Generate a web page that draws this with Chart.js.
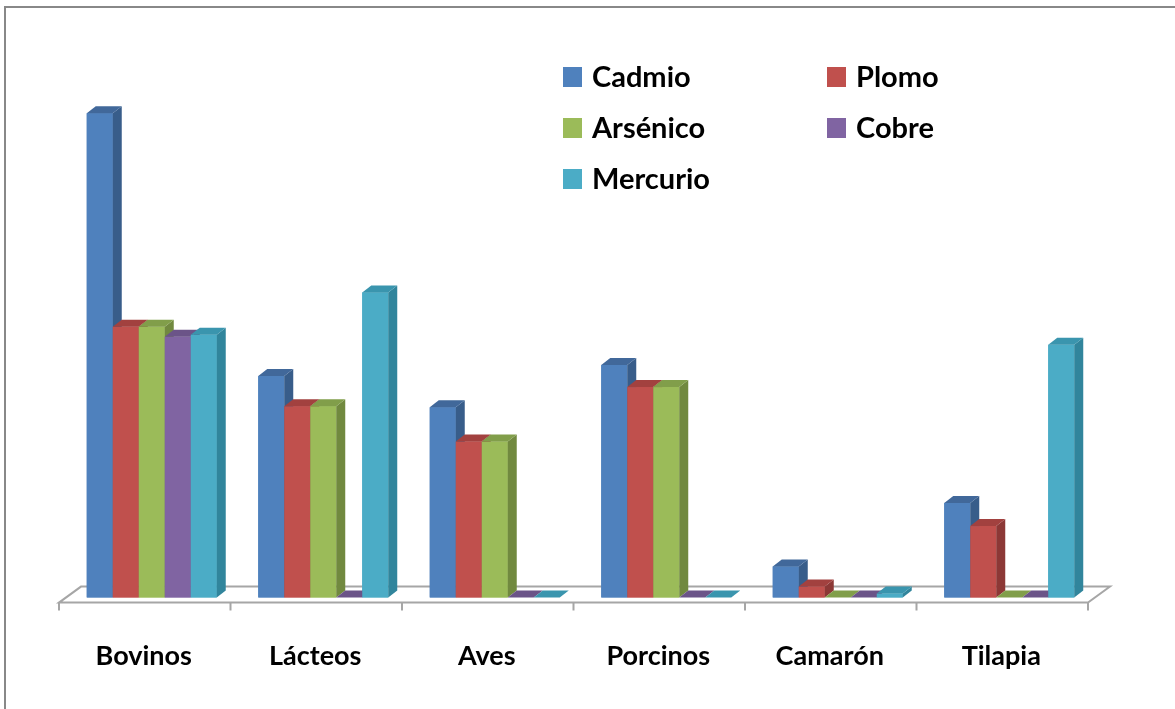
<!DOCTYPE html>
<html>
<head>
<meta charset="utf-8">
<title>Metales por producto</title>
<style>
  html, body { margin: 0; padding: 0; background: #fff; overflow: hidden; }
  #grafico { position: absolute; left: 0; top: 0; }
</style>
</head>
<body>
<canvas id="grafico" width="1175" height="709"></canvas>
<script src="https://cdn.jsdelivr.net/npm/chart.js@4.4.1/dist/chart.umd.min.js"></script>
<script>
// productos y metales
var productos = ['Bovinos', 'Lácteos', 'Aves', 'Porcinos', 'Camarón', 'Tilapia'];
var metales = ['Cadmio', 'Plomo', 'Arsénico', 'Cobre', 'Mercurio'];

var cadmio   = [4.81, 2.20, 1.89, 2.31, 0.31, 0.94];
var plomo    = [2.69, 1.90, 1.55, 2.09, 0.11, 0.71];
var arsenico = [2.69, 1.90, 1.55, 2.09, 0, 0];
var cobre    = [2.59, 0, 0, 0, 0, 0];
var mercurio = [2.61, 3.03, 0, 0, 0.04, 2.51];

var colores = ['#4F81BD', '#C0504D', '#9BBB59', '#8064A2', '#4BACC6'];
var lados   = ['#385D8A', '#8C3836', '#71893F', '#5C4776', '#31859C'];
var techos  = ['#41689A', '#A2413F', '#819E4A', '#6B5488', '#3A95AE'];

var series = [cadmio, plomo, arsenico, cobre, mercurio];

// profundidad del efecto 3d
var dx = 9, dy = 7;

var barras3d = {
  id: 'barras3d',
  beforeDraw: function(chart) {
    var c = chart.ctx;
    c.save();
    c.strokeStyle = '#888888';
    c.lineWidth = 2;
    c.beginPath();
    c.moveTo(5, 709);
    c.lineTo(5, 7);
    c.lineTo(1175, 7);
    c.stroke();
    c.restore();
  },
  beforeDatasetsDraw: function(chart) {
    // piso
    var c = chart.ctx, a = chart.chartArea;
    var base = chart.scales.y.getPixelForValue(0);
    var x0 = a.left - 7, x1 = a.right - 7;
    var yf = base + 5, yb = base - 11;
    c.save();
    c.strokeStyle = '#A6A6A6';
    c.lineWidth = 2;
    c.beginPath();
    c.moveTo(x0, yf); c.lineTo(x1, yf);
    c.lineTo(x1 + 22, yb); c.lineTo(x0 + 22, yb); c.closePath();
    c.stroke();
    var w = (x1 - x0) / productos.length;
    c.beginPath();
    for (var k = 0; k <= productos.length; k++) {
      c.moveTo(x0 + k * w, yf); c.lineTo(x0 + k * w, yf + 8);
    }
    c.stroke();
    c.restore();
  },
  afterDatasetsDraw: function(chart) {
    var c = chart.ctx;
    c.save();
    chart.data.datasets.forEach(function(ds, i) {
      chart.getDatasetMeta(i).data.forEach(function(bar) {
        var p = bar.getProps(['x', 'y', 'base', 'width'], true);
        var l = p.x - p.width / 2, r = p.x + p.width / 2;
        c.fillStyle = colores[i];
        c.fillRect(l, p.y, p.width, p.base - p.y);
        c.fillStyle = lados[i];
        c.beginPath();
        c.moveTo(r, p.y); c.lineTo(r + dx, p.y - dy);
        c.lineTo(r + dx, p.base - dy); c.lineTo(r, p.base);
        c.closePath(); c.fill();
        c.fillStyle = techos[i];
        c.beginPath();
        c.moveTo(l, p.y); c.lineTo(l + dx, p.y - dy);
        c.lineTo(r + dx, p.y - dy); c.lineTo(r, p.y);
        c.closePath(); c.fill();
      });
    });
    c.restore();
  },
  afterDraw: function(chart) {
    // leyenda en dos columnas
    var c = chart.ctx;
    c.save();
    c.font = 'bold 29px Lato';
    c.textBaseline = 'middle';
    chart.data.datasets.forEach(function(ds, i) {
      var col = i % 2, fila = Math.floor(i / 2);
      var x = 563 + col * 264, y = 77 + fila * 51;
      c.fillStyle = ds.backgroundColor;
      c.fillRect(x, y - 10, 19, 20);
      c.fillStyle = '#000';
      c.fillText(ds.label, x + 29, y + 1);
    });
    c.restore();
  }
};

new Chart(document.getElementById('grafico'), {
  type: 'bar',
  data: {
    labels: productos,
    datasets: metales.map(function(m, i) {
      return { label: m, data: series[i], backgroundColor: colores[i] };
    })
  },
  options: {
    responsive: false,
    animation: false,
    layout: { padding: { left: 66, right: 80, top: 94, bottom: 3 } },
    datasets: { bar: { barPercentage: 1, categoryPercentage: 0.758 } },
    plugins: { legend: { display: false }, tooltip: { enabled: false } },
    scales: {
      x: {
        grid: { display: false },
        border: { display: false },
        ticks: { color: '#000', padding: 34, labelOffset: -8,
                 font: { family: 'Lato', size: 27, weight: 'bold' } }
      },
      y: { display: false, min: 0, max: 5 }
    }
  },
  plugins: [barras3d]
});
</script>
</body>
</html>
